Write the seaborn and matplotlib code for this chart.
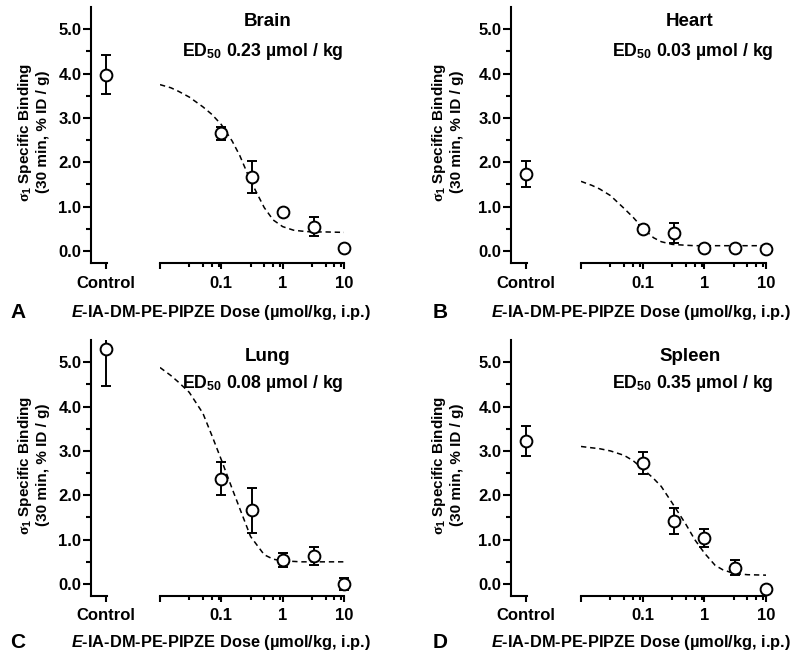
import matplotlib
matplotlib.use("Agg")
import matplotlib.pyplot as plt
import seaborn as sns
from matplotlib.patches import Rectangle

# ------------------------------------------ DATA ------------------------------------------#
organs = ["Brain", "Heart", "Lung", "Spleen"]
panel_letters = ["A", "B", "C", "D"]
ed50_labels = ["0.23", "0.03", "0.08", "0.35"]

control_means = [3.97, 1.73, 5.30, 3.22]
control_errs = [0.44, 0.29, 0.83, 0.34]

doses = [0.1, 0.32, 1, 3.2, 10]
brain_means = [2.65, 1.67, 0.87, 0.55, 0.06]
brain_errs = [0.15, 0.37, 0.04, 0.22, 0.0]
heart_means = [0.49, 0.40, 0.06, 0.06, 0.04]
heart_errs = [0.09, 0.23, 0.0, 0.0, 0.0]
lung_means = [2.37, 1.66, 0.54, 0.63, 0.0]
lung_errs = [0.37, 0.51, 0.16, 0.21, 0.14]
spleen_means = [2.73, 1.42, 1.03, 0.37, -0.12]
spleen_errs = [0.25, 0.30, 0.20, 0.17, 0.0]

# dashed fitted curves, read at these doses
fit_doses = [0.01, 0.015, 0.02, 0.03, 0.05, 0.07, 0.1, 0.15, 0.2, 0.3, 0.5, 0.7, 1, 1.5, 2, 3, 5, 10]
brain_fit = [3.75, 3.68, 3.60, 3.47, 3.25, 3.08, 2.85, 2.48, 2.15, 1.58, 0.98, 0.70, 0.55, 0.47, 0.45, 0.43, 0.43, 0.42]
heart_fit = [1.57, 1.48, 1.40, 1.25, 0.96, 0.76, 0.52, 0.30, 0.21, 0.15, 0.13, 0.12, 0.12, 0.12, 0.12, 0.12, 0.12, 0.12]
lung_fit = [4.88, 4.70, 4.55, 4.32, 3.85, 3.35, 2.80, 2.15, 1.70, 1.07, 0.66, 0.56, 0.52, 0.51, 0.50, 0.50, 0.50, 0.50]
spleen_fit = [3.10, 3.07, 3.05, 3.00, 2.90, 2.78, 2.60, 2.38, 2.20, 1.83, 1.35, 1.00, 0.70, 0.42, 0.32, 0.24, 0.21, 0.20]

means = [brain_means, heart_means, lung_means, spleen_means]
errs = [brain_errs, heart_errs, lung_errs, spleen_errs]
fits = [brain_fit, heart_fit, lung_fit, spleen_fit]

# ------------------------------------------ STYLE ------------------------------------------------#
sns.set_theme(style="ticks")
plt.rcParams["font.family"] = ["Liberation Sans", "DejaVu Sans"]
plt.rcParams["font.weight"] = "bold"
plt.rcParams["mathtext.fontset"] = "custom"
plt.rcParams["mathtext.rm"] = "Liberation Sans:bold"
plt.rcParams["mathtext.it"] = "Liberation Serif"
plt.rcParams["mathtext.bf"] = "Liberation Sans:italic:bold"
for key in ["text.color", "axes.labelcolor", "axes.edgecolor", "xtick.color", "ytick.color"]:
    plt.rcParams[key] = "black"

W, H = 800, 661
LW = 1.5
YLIM = (-0.27, 5.5)
TICK_FS = 12


def rect(x0, x1, y0, y1):
    # pixel box -> figure fraction
    return [x0 / W, 1 - y1 / H, (x1 - x0) / W, (y1 - y0) / H]


# panel layout in pixels: control axis x, dose axis x, y top/bottom, text anchors
layout = [
    dict(cx=(91, 107), dx=(160, 344), y=(7, 263), title=(268, 22), ed=(263, 52), ylab=(33, 132), xlab=(221, 313), letter=(18, 313)),
    dict(cx=(511, 527), dx=(581, 766), y=(7, 263), title=(690, 22), ed=(693, 52), ylab=(447, 132), xlab=(641, 313), letter=(440, 313)),
    dict(cx=(91, 107), dx=(160, 344), y=(340, 596), title=(268, 356), ed=(263, 383), ylab=(33, 465), xlab=(221, 643), letter=(18, 643)),
    dict(cx=(511, 527), dx=(581, 766), y=(340, 596), title=(690, 356), ed=(693, 383), ylab=(447, 465), xlab=(641, 643), letter=(440, 643)),
]

fig = plt.figure(figsize=(8, 6.61), dpi=100)

for i, organ in enumerate(organs):
    lay = layout[i]

    # ---- control axis ----
    ax_c = fig.add_axes(rect(lay["cx"][0], lay["cx"][1], *lay["y"]))
    ax_c.set_xlim(-1.2, 0.1)
    ax_c.set_ylim(*YLIM)
    ax_c.patch.set_alpha(0)
    eb = ax_c.errorbar([0], [control_means[i]], yerr=[control_errs[i]], fmt="none", ecolor="black",
                       elinewidth=1.4, capsize=3.5, capthick=1.4, zorder=2)
    clip = Rectangle((-2, -1), 4, 2, transform=ax_c.transAxes)
    for art in list(eb[1]) + list(eb[2]):
        art.set_clip_path(clip)
    sns.scatterplot(x=[0], y=[control_means[i]], ax=ax_c, marker="o", s=72, color="white",
                    edgecolor="black", linewidth=1.4, zorder=3, clip_on=False)
    ax_c.set_xticks([0])
    ax_c.set_xticklabels(["Control"])
    ax_c.set_yticks([0, 1, 2, 3, 4, 5])
    ax_c.set_yticklabels([f"{v:.1f}" for v in range(6)])
    ax_c.set_yticks([0.5, 1.5, 2.5, 3.5, 4.5], minor=True)
    for s in ["top", "right"]:
        ax_c.spines[s].set_visible(False)
    for s in ["left", "bottom"]:
        ax_c.spines[s].set_linewidth(LW)
    ax_c.tick_params(axis="y", which="major", length=6, width=LW, pad=1, labelsize=TICK_FS)
    ax_c.tick_params(axis="y", which="minor", length=3.5, width=LW)
    ax_c.tick_params(axis="x", which="major", length=4, width=LW, pad=5, labelsize=TICK_FS)

    # ---- dose axis ----
    ax_d = fig.add_axes(rect(lay["dx"][0], lay["dx"][1], *lay["y"]))
    ax_d.set_xscale("log")
    ax_d.set_xlim(0.01, 10)
    ax_d.set_ylim(*YLIM)
    ax_d.patch.set_alpha(0)
    sns.lineplot(x=fit_doses, y=fits[i], ax=ax_d, color="black", lw=1.1, linestyle=(0, (3.5, 2.5)), zorder=1)
    ax_d.errorbar(doses, means[i], yerr=errs[i], fmt="none", ecolor="black", elinewidth=1.4,
                  capsize=3.5, capthick=1.4, zorder=2, clip_on=False)
    sns.scatterplot(x=doses, y=means[i], ax=ax_d, marker="o", s=72, color="white",
                    edgecolor="black", linewidth=1.4, zorder=3, clip_on=False)
    ax_d.set_xticks([0.01, 0.1, 1, 10])
    ax_d.set_xticklabels(["", "0.1", "1", "10"])
    ax_d.set_xticks([m * d for d in (0.01, 0.1, 1) for m in (3, 5, 7, 9)], minor=True)
    ax_d.set_xticklabels([], minor=True)
    ax_d.set_yticks([])
    for s in ["top", "right", "left"]:
        ax_d.spines[s].set_visible(False)
    ax_d.spines["bottom"].set_linewidth(LW)
    ax_d.tick_params(axis="x", which="major", length=4, width=LW, pad=5, labelsize=TICK_FS)
    ax_d.tick_params(axis="x", which="minor", length=3, width=LW)
    ax_d.set_xlabel("")
    ax_d.set_ylabel("")

    # ---- texts ----
    fig.text(lay["title"][0] / W, 1 - lay["title"][1] / H, organ, ha="center", va="center",
             fontsize=13.5, fontweight="bold")
    fig.text(lay["ed"][0] / W, 1 - lay["ed"][1] / H, f"ED$_{{50}}$ {ed50_labels[i]} µmol / kg",
             ha="center", va="center", fontsize=12.8, fontweight="bold")
    fig.text(lay["ylab"][0] / W, 1 - lay["ylab"][1] / H,
             "$\\sigma_1$ Specific Binding\n(30 min, % ID / g)", rotation=90, ha="center", va="center",
             multialignment="center", fontsize=11, fontweight="bold", linespacing=1.1)
    fig.text(lay["xlab"][0] / W, 1 - lay["xlab"][1] / H,
             "$\\mathbf{E}$-IA-DM-PE-PIPZE Dose (µmol/kg, i.p.)", ha="center", va="center",
             fontsize=11.8, fontweight="bold")
    fig.text(lay["letter"][0] / W, 1 - lay["letter"][1] / H, panel_letters[i], ha="center", va="center",
             fontsize=15, fontweight="bold")

fig.savefig("out.png", dpi=100, facecolor="white")
plt.close()
